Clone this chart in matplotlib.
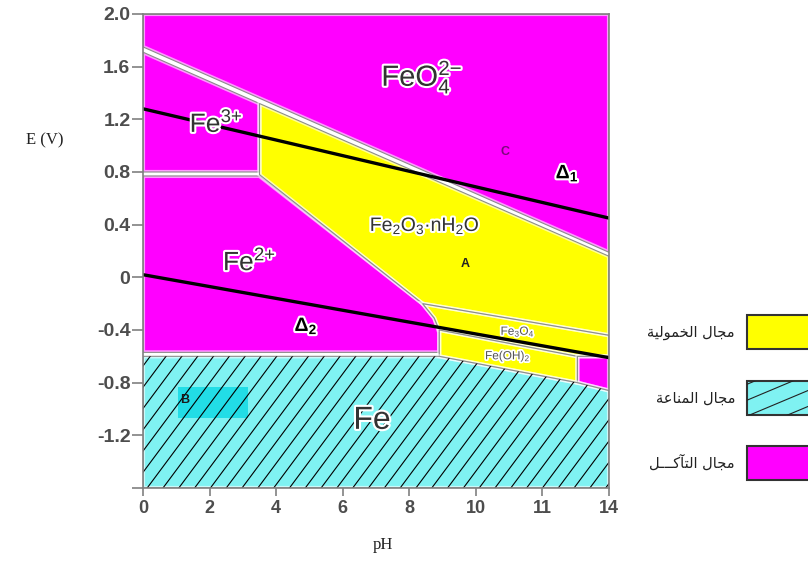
import numpy as np
import matplotlib
matplotlib.use('Agg')
from matplotlib import pyplot as plt
from matplotlib import patheffects as pe
from matplotlib.patches import Rectangle
from matplotlib.lines import Line2D

plt.rcParams['font.family'] = ['Liberation Sans', 'DejaVu Sans']
plt.rcParams['mathtext.fontset'] = 'custom'
plt.rcParams['mathtext.rm'] = 'Liberation Sans'
plt.rcParams['mathtext.it'] = 'Liberation Sans:italic'
plt.rcParams['mathtext.bf'] = 'Liberation Sans:bold'

# axis ticks (the reference prints "11" under pH 12)
ph_ticks = [0, 2, 4, 6, 8, 10, 12, 14]
ph_labels = ['0', '2', '4', '6', '8', '10', '11', '14']
e_ticks = [2.0, 1.6, 1.2, 0.8, 0.4, 0, -0.4, -0.8, -1.2, -1.6]
e_labels = ['2.0', '1.6', '1.2', '0.8', '0.4', '0', '-0.4', '-0.8', '-1.2', '']

# stability regions (pH, E in volts)
feo4_ph = [0, 14, 14, 3.5, 0]
feo4_e = [2.0, 2.0, 0.19, 1.36, 1.75]

fe3_ph = [0, 3.5, 3.5, 0]
fe3_e = [1.71, 1.32, 0.80, 0.80]

fe2_ph = [0, 3.5, 8.4, 8.75, 8.9, 8.9, 0]
fe2_e = [0.77, 0.77, -0.20, -0.31, -0.42, -0.57, -0.57]

fe2o3_ph = [3.5, 14, 14, 8.4, 3.5]
fe2o3_e = [1.32, 0.16, -0.44, -0.20, 0.78]

fe3o4_ph = [8.4, 14, 14, 13.05, 8.9, 8.75]
fe3o4_e = [-0.20, -0.44, -0.60, -0.60, -0.40, -0.31]

feoh2_ph = [8.9, 13.05, 13.05, 8.9]
feoh2_e = [-0.40, -0.60, -0.80, -0.60]

hfeo2_ph = [13.05, 14, 14, 13.05]
hfeo2_e = [-0.60, -0.60, -0.86, -0.80]

fe_ph = [0, 8.9, 13.05, 14, 14, 0]
fe_e = [-0.60, -0.60, -0.80, -0.86, -1.6, -1.6]

b_ph = [1.05, 3.15, 3.15, 1.05]
b_e = [-0.83, -0.83, -1.07, -1.07]

# water lines
delta1_ph = [0, 14]
delta1_e = [1.28, 0.45]
delta2_ph = [0, 14]
delta2_e = [0.02, -0.61]

legend_texts = ['مجال الخمولية', 'مجال المناعة', 'مجال التآكـــل']
legend_colors = ['#ffff00', '#7ff2f2', '#ff00ff']

MAGENTA = '#ff00ff'
YELLOW = '#ffff00'
CYAN = '#7ff2f2'

# arabic presentation forms: isolated, final, initial, medial
FORMS = {
    'ا': ('\ufe8d', '\ufe8e', None, None),
    'آ': ('\ufe81', '\ufe82', None, None),
    'ة': ('\ufe93', '\ufe94', None, None),
    'ت': ('\ufe95', '\ufe96', '\ufe97', '\ufe98'),
    'ج': ('\ufe9d', '\ufe9e', '\ufe9f', '\ufea0'),
    'خ': ('\ufea5', '\ufea6', '\ufea7', '\ufea8'),
    'ع': ('\ufec9', '\ufeca', '\ufecb', '\ufecc'),
    'ك': ('\ufed9', '\ufeda', '\ufedb', '\ufedc'),
    'ل': ('\ufedd', '\ufede', '\ufedf', '\ufee0'),
    'م': ('\ufee1', '\ufee2', '\ufee3', '\ufee4'),
    'ن': ('\ufee5', '\ufee6', '\ufee7', '\ufee8'),
    'و': ('\ufeed', '\ufeee', None, None),
    'ي': ('\ufef1', '\ufef2', '\ufef3', '\ufef4'),
    'ـ': ('\u0640', '\u0640', '\u0640', '\u0640'),
}


def shape_arabic(s):
    # matplotlib has no text shaping, so pick the joined forms and reverse
    out = []
    for i, c in enumerate(s):
        if c not in FORMS:
            out.append(c)
            continue
        prev = s[i - 1] if i > 0 else ''
        nxt = s[i + 1] if i + 1 < len(s) else ''
        jp = prev in FORMS and FORMS[prev][2] is not None
        jn = FORMS[c][2] is not None and nxt in FORMS
        if jp and jn:
            out.append(FORMS[c][3])
        elif jp:
            out.append(FORMS[c][1])
        elif jn:
            out.append(FORMS[c][2])
        else:
            out.append(FORMS[c][0])
    return ''.join(reversed(out))


fig = plt.figure(figsize=(8.08, 5.69), dpi=100)
ax = fig.add_axes([143 / 808, 1 - 488 / 569, 466 / 808, 474 / 569])


def region(ph, e, color):
    poly = ax.fill(ph, e, fc=color, ec='none', zorder=1)[0]
    ax.fill(ph, e, fc='none', ec=(1, 1, 1, 0.6), lw=3, zorder=2)
    ax.fill(ph, e, fc='none', ec='#8c8c8c', lw=0.8, zorder=2)
    return poly


region(feo4_ph, feo4_e, MAGENTA)
region(fe3_ph, fe3_e, MAGENTA)
region(fe2_ph, fe2_e, MAGENTA)
region(fe2o3_ph, fe2o3_e, YELLOW)
region(fe3o4_ph, fe3o4_e, YELLOW)
region(feoh2_ph, feoh2_e, YELLOW)
region(hfeo2_ph, hfeo2_e, MAGENTA)
fe_poly = region(fe_ph, fe_e, CYAN)
ax.fill(b_ph, b_e, fc='#22dde6', ec='none', zorder=1.5)

# steep hatching of the immunity region
slope = 0.34
for x0 in np.arange(-3.2, 14.5, 0.475):
    ln, = ax.plot([x0, x0 + 3.6 / slope], [-1.6, 2.0], color='black', lw=0.8, zorder=3)
    ln.set_clip_path(fe_poly)

ax.plot(delta1_ph, delta1_e, color='black', lw=2.4, zorder=5)
ax.plot(delta2_ph, delta2_e, color='black', lw=2.4, zorder=5)

halo = [pe.withStroke(linewidth=3, foreground='white')]
big = dict(color='#333333', ha='center', va='center', path_effects=halo, zorder=6)
ax.text(8.38, 1.52, r'FeO$_4^{2{-}}$', fontsize=21, **big)
ax.text(2.2, 1.17, r'Fe$^{3{+}}$', fontsize=19, **big)
ax.text(3.2, 0.12, r'Fe$^{2{+}}$', fontsize=19, **big)
ax.text(8.47, 0.39, r'Fe$_2$O$_3$·nH$_2$O', fontsize=14, **big)
ax.text(6.88, -1.09, 'Fe', fontsize=23, **big)

ax.text(9.67, 0.10, 'A', fontsize=9, fontweight='bold', color='#222222',
        ha='center', va='center', zorder=6)
ax.text(10.87, 0.95, 'C', fontsize=9, fontweight='bold', color='#7a0a7a',
        ha='center', va='center', zorder=6)
ax.text(1.26, -0.93, 'B', fontsize=9, fontweight='bold', color='#1a1a1a',
        ha='center', va='center', zorder=6)
ax.text(12.75, 0.79, r'$\mathbf{\Delta_1}$', fontsize=14, color='black',
        ha='center', va='center', path_effects=halo, zorder=6)
ax.text(4.9, -0.37, r'$\mathbf{\Delta_2}$', fontsize=14, color='black',
        ha='center', va='center', path_effects=halo, zorder=6)

small = dict(fontsize=8.5, color='#555555', ha='center', va='center', zorder=6,
             path_effects=[pe.withStroke(linewidth=2.5, foreground='white')])
ax.text(11.26, -0.41, r'Fe$_3$O$_4$', **small)
ax.text(10.96, -0.60, r'Fe(OH)$_2$', **small)

ax.set_xlim(0, 14)
ax.set_ylim(-1.6, 2.0)
ax.set_xticks(ph_ticks)
ax.set_xticklabels(ph_labels, fontsize=13, fontweight='bold', color='#4d4d4d')
ax.set_yticks(e_ticks)
ax.set_yticklabels(e_labels, fontsize=14, fontweight='bold', color='#4d4d4d')
ax.tick_params(axis='y', direction='out', length=8, width=1.2, color='#808080', pad=1)
ax.tick_params(axis='x', direction='out', length=5.5, width=1.2, color='#808080', pad=3)
for sp in ax.spines.values():
    sp.set_color('#808080')
    sp.set_linewidth(1.2)
    sp.set_zorder(7)

fig.text(45 / 808, 1 - 140 / 569, 'E (V)', family='Liberation Serif', fontsize=12,
         color='#222222', ha='center', va='center')
fig.text(383 / 808, 1 - 545 / 569, 'pH', family='Liberation Serif', fontsize=12,
         color='#222222', ha='center', va='center')

# legend boxes on the right, running off the edge of the picture
box_tops = [315, 381, 446]
for top, col, txt in zip(box_tops, legend_colors, legend_texts):
    y0 = 1 - (top + 34) / 569
    rect = Rectangle((747 / 808, y0), 0.12, 34 / 569, transform=fig.transFigure,
                     fc=col, ec='#333333', lw=1.5, clip_on=False)
    fig.add_artist(rect)
    fig.text(735 / 808, 1 - (top + 17) / 569, shape_arabic(txt), family='DejaVu Sans',
             fontsize=10.5, color='#222222', ha='right', va='center')
    if col == legend_colors[1]:
        for k in range(4):
            yy = y0 - 0.03 + k * 0.028
            ln = Line2D([747 / 808, 1.0], [yy, yy + 0.045], transform=fig.transFigure,
                        color='#222222', lw=0.8)
            fig.add_artist(ln)
            ln.set_clip_path(rect)

fig.savefig('out.png', dpi=100)
